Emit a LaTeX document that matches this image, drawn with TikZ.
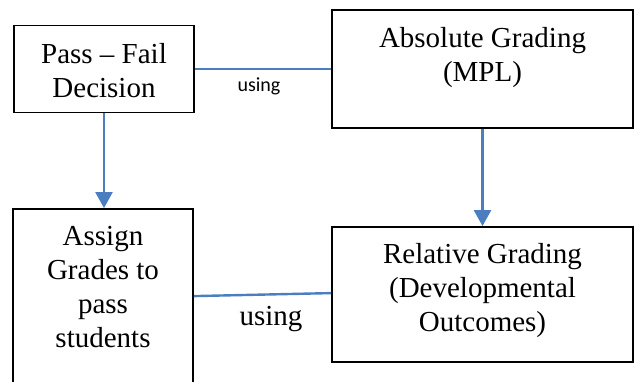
\documentclass[tikz,border=0pt]{standalone}
\usepackage{fontspec}
\setmainfont{Liberation Serif}
\newfontfamily\calib{Carlito}
\usetikzlibrary{arrows.meta,calc}
\definecolor{linkblue}{RGB}{74,126,193}
\tikzset{
  box/.style={draw=black, line width=1.8pt, rectangle, inner sep=0pt},
  txt/.style={anchor=north, inner sep=0pt, align=center, font=\fontsize{29}{34}\selectfont},
  link/.style={draw=linkblue, line width=2.4pt},
  arr/.style={link, -{Triangle[width=17pt,length=16pt]}},
}
\begin{document}
\begin{tikzpicture}[x=1pt,y=-1pt]
\useasboundingbox (0,0) rectangle (634,382);
\clip (0,0) rectangle (634,382);
\node[box, minimum width=180pt, minimum height=87pt] (b1) at (104,69) {};
\node[box, minimum width=301pt, minimum height=118pt] (b2) at (482.5,69) {};
\node[box, minimum width=180pt, minimum height=191pt] (b3) at (103,304.5) {};
\node[box, minimum width=301pt, minimum height=135pt] (b4) at (482.5,294.5) {};
\node[txt] (t1) at (104,41) {\rule{0pt}{22pt}Pass – Fail\\Decision};
\node[txt] (t2) at (482.5,25) {\rule{0pt}{22pt}Absolute Grading\\(MPL)};
\node[txt] (t3) at (103,223) {\rule{0pt}{22pt}Assign\\Grades to\\pass\\students};
\node[txt] (t4) at (482.5,241) {\rule{0pt}{22pt}Relative Grading\\(Developmental\\Outcomes)};
\coordinate (l3) at ($(b3.north east)+(0,88)$);
\coordinate (r4) at ($(b4.north west)+(0,67)$);
\draw[link] (b1.east) -- (b2.west);
\draw[link] (l3) -- (r4);
\draw[arr] (b1.south) -- (b1.south |- b3.north);
\draw[arr] (b2.south) -- (b2.south |- b4.north);
\node[anchor=base, inner sep=0pt, font=\calib\fontsize{20}{24}\selectfont] (u1) at (259,92) {using};
\node[anchor=base, inner sep=0pt, font=\fontsize{29}{34}\selectfont] (u2) at (271,325) {using};
\end{tikzpicture}
\end{document}
